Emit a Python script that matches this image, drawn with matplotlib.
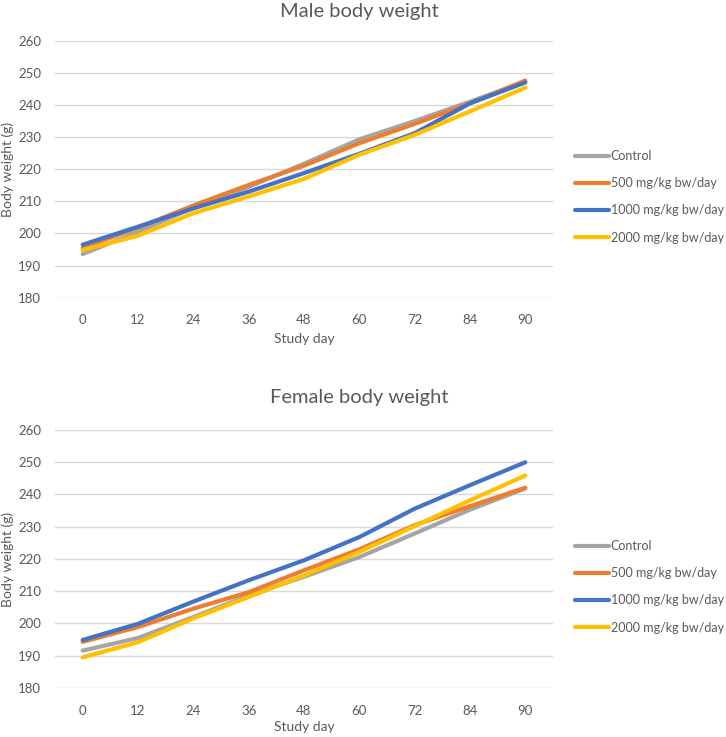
import matplotlib
matplotlib.use("Agg")
import matplotlib.pyplot as plt

days = ["0", "12", "24", "36", "48", "60", "72", "84", "90"]
series_names = ["Control", "500 mg/kg bw/day", "1000 mg/kg bw/day", "2000 mg/kg bw/day"]

male_control = [193.6, 200.5, 208.0, 214.5, 221.7, 229.3, 235.0, 241.0, 247.3]
male_500 = [195.5, 201.8, 208.7, 215.1, 221.1, 228.1, 234.1, 240.5, 247.6]
male_1000 = [196.5, 202.1, 207.8, 213.0, 218.8, 224.8, 231.2, 240.5, 247.0]
male_2000 = [194.8, 199.3, 206.3, 211.5, 217.0, 224.5, 230.7, 238.0, 245.4]

female_control = [191.6, 195.5, 202.0, 208.7, 214.5, 220.6, 227.9, 235.3, 241.9]
female_500 = [194.3, 198.9, 204.6, 209.7, 216.5, 223.0, 230.5, 236.4, 242.1]
female_1000 = [194.9, 199.9, 206.8, 213.4, 219.6, 226.8, 235.6, 242.9, 250.0]
female_2000 = [189.5, 194.2, 201.6, 208.2, 214.9, 222.2, 230.2, 238.2, 245.9]

y_ticks = [180, 190, 200, 210, 220, 230, 240, 250, 260]

colors = ["#A5A5A5", "#ED7D31", "#4472C4", "#FFC000"]
FONT = ["Lato", "DejaVu Sans"]
plt.rcParams["font.family"] = FONT
TXT = "#595959"

W, H = 726, 737
fig = plt.figure(figsize=(W / 100, H / 100), dpi=100)


def make_panel(top_px, bottom_px, title, title_y, xlabel_y, legend_y, data):
    ax = fig.add_axes([55 / W, 1 - bottom_px / H, 498 / W, (bottom_px - top_px) / H])
    x = list(range(len(days)))
    for name, vals, c in zip(series_names, data, colors):
        ax.plot(x, vals, color=c, lw=3.0, label=name, solid_capstyle="round", zorder=3)
    ax.set_xlim(-0.5, len(days) - 0.5)
    ax.set_ylim(180, 260)
    ax.set_yticks(y_ticks)
    ax.set_xticks(x)
    ax.set_xticklabels(days)
    ax.grid(axis="y", color="#D9D9D9", lw=1.0, zorder=0)
    for s in ax.spines.values():
        s.set_visible(False)
    ax.tick_params(length=0, labelsize=9.5, colors=TXT)
    ax.tick_params(axis="y", pad=10)
    ax.tick_params(axis="x", pad=12)
    fig.text(8 / W, 1 - (top_px + bottom_px) / 2 / H, "Body weight (g)", rotation=90,
             ha="center", va="center", fontsize=10, color=TXT)
    fig.text(304 / W, 1 - xlabel_y / H, "Study day", ha="center", va="center",
             fontsize=10, color=TXT)
    fig.text(359 / W, 1 - title_y / H, title, ha="center", va="center",
             fontsize=14.5, color=TXT)
    ax.legend(loc="upper left", bbox_to_anchor=(575 / W, 1 - legend_y / H),
              bbox_transform=fig.transFigure, frameon=False, fontsize=9,
              handlelength=2.75, handletextpad=0.1, labelspacing=1.22,
              borderpad=0, borderaxespad=0, labelcolor=TXT)
    return ax


make_panel(40.7, 297.7, "Male body weight", 11, 339, 150,
           [male_control, male_500, male_1000, male_2000])
make_panel(430, 688, "Female body weight", 398, 727, 540,
           [female_control, female_500, female_1000, female_2000])

fig.savefig("out.png", dpi=100)
